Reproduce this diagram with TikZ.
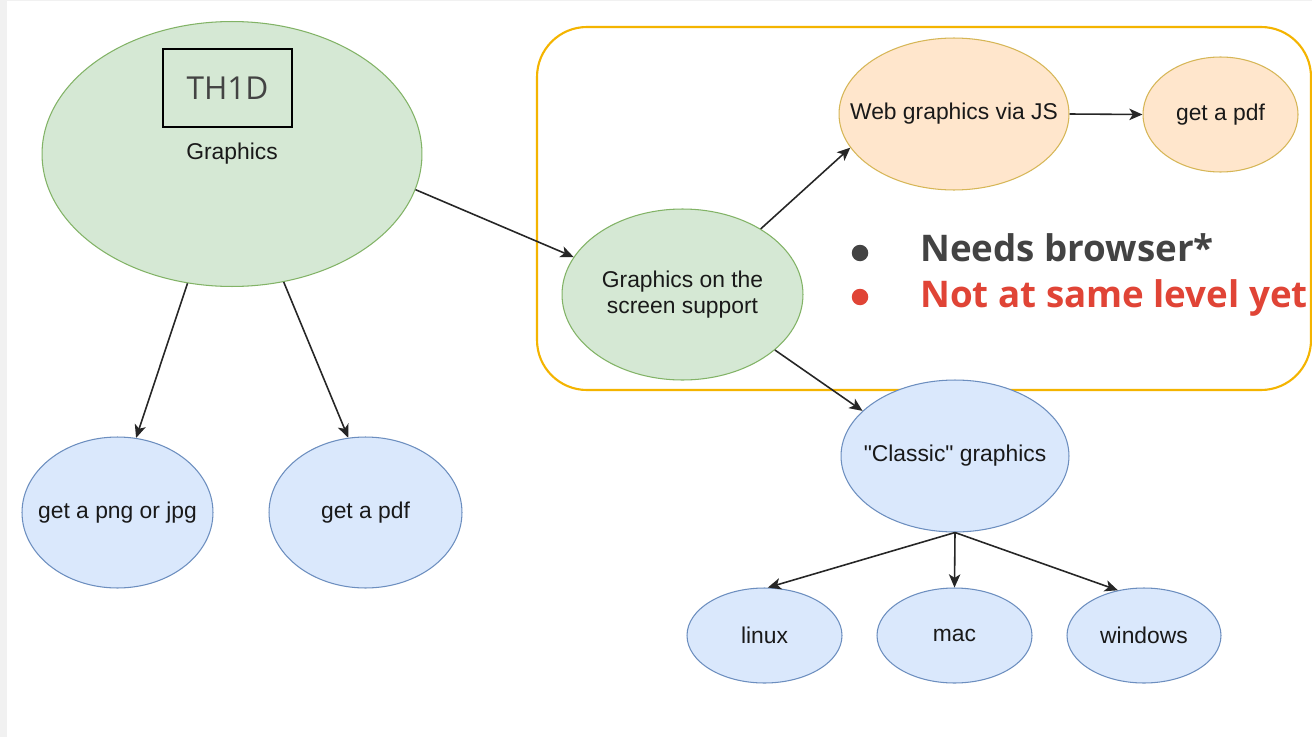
\documentclass[tikz,border=0pt]{standalone}
\usepackage{fontspec}
\setmainfont{Liberation Sans}
\newfontfamily\slidefont{Open Sans}
\usetikzlibrary{shapes.geometric}
\usetikzlibrary{arrows.meta}

\definecolor{greenfill}{HTML}{D5E8D4}
\definecolor{greenline}{HTML}{82B366}
\definecolor{orangefill}{HTML}{FFE6CC}
\definecolor{orangeline}{HTML}{D6B656}
\definecolor{bluefill}{HTML}{DAE8FC}
\definecolor{blueline}{HTML}{6C8EBF}
\definecolor{groupline}{HTML}{F4B400}
\definecolor{slidedark}{HTML}{434343}
\definecolor{slidered}{HTML}{E04436}
\definecolor{edgegray}{HTML}{F1F1F1}

\tikzset{
  bubble/.style={ellipse,draw,line width=0.6pt,inner xsep=-1cm,inner ysep=0pt,
    align=center,text=black!90,font=\fontsize{13}{14.5}\selectfont},
  greenbub/.style={bubble,fill=greenfill,draw=greenline},
  orangebub/.style={bubble,fill=orangefill,draw=orangeline},
  bluebub/.style={bubble,fill=bluefill,draw=blueline},
  link/.style={-{Stealth[length=7.5pt,width=6.5pt,inset=2pt]},line width=0.9pt,draw=black!85},
  dot/.style={circle,inner sep=0pt,minimum size=0.33cm},
  bullettext/.style={anchor=base west,inner sep=0pt,font=\slidefont\bfseries\fontsize{20.9}{25}\selectfont}
}

\begin{document}
\begin{tikzpicture}[x=0.02cm,y=-0.02cm]
\useasboundingbox (0,0) rectangle (1312,737);
\fill[white] (0,0) rectangle (1312,737);
\fill[edgegray] (0,0) rectangle (7,737);
\fill[edgegray] (0,0) rectangle (1312,1.5);

% group box
\draw[groupline,line width=1.2pt,rounded corners=1cm] (537,27) rectangle (1311,390);

\node[greenbub,minimum width=7.6cm,minimum height=5.3cm] (graphics) at (232,154) {Graphics};
\node[draw=black,line width=1.1pt,minimum width=2.58cm,minimum height=1.56cm,
  text=slidedark,font=\slidefont\fontsize{18}{20}\selectfont] (th1d) at (227.5,88) {TH1D\hspace{4pt}};

\node[bluebub,minimum width=3.82cm,minimum height=3.02cm] (png) at (117.5,512.5) {get a png or jpg};
\node[bluebub,minimum width=3.86cm,minimum height=3.02cm] (pdf) at (365.5,512.5) {get a pdf};

\node[greenbub,minimum width=4.82cm,minimum height=3.42cm] (screen) at (682.5,294.5) {Graphics on the\\screen support};
\node[orangebub,minimum width=4.6cm,minimum height=3.04cm] (web) at (954,114) {Web graphics via JS};
\node[orangebub,minimum width=3.1cm,minimum height=2.3cm] (webpdf) at (1220.5,114.5) {get a pdf};

\node[bluebub,minimum width=4.56cm,minimum height=3.04cm] (classic) at (955,456) {\textquotedbl Classic\textquotedbl\ graphics};
\node[bluebub,minimum width=3.1cm,minimum height=1.9cm] (linux) at (764.5,635.5) {linux};
\node[bluebub,minimum width=3.1cm,minimum height=1.9cm] (mac) at (954.5,635.5) {mac};
\node[bluebub,minimum width=3.08cm,minimum height=1.9cm] (windows) at (1144,635.5) {windows};

% notes
\node[dot,fill=slidedark] (bulA) at (860,253) {};
\node[dot,fill=slidered] (bulB) at (860,297) {};
\node[bullettext,text=slidedark] (needs) at (920,261) {Needs browser*};
\node[bullettext,text=slidered] (level) at (920,307) {Not at same level yet};

% arrows
\draw[link] (graphics.251) -- (png.76);
\draw[link] (graphics.292) -- (pdf.103);
\draw[link] (graphics.-11) -- (screen.161);
\draw[link] (screen.40) -- (web.198);
\draw[link] (web.east) -- (webpdf.west);
\draw[link] (screen.-31) -- (classic.154);
\draw[link] (classic.south) -- (linux.86);
\draw[link] (classic.south) -- (mac.north);
\draw[link] (classic.south) -- (windows.120);

\end{tikzpicture}
\end{document}
